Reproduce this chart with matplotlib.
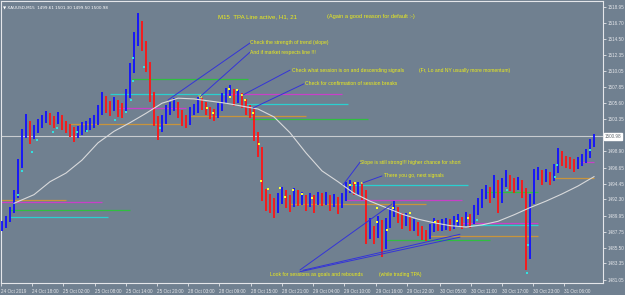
import matplotlib
matplotlib.use('Agg')
import matplotlib.pyplot as plt

# ---------------- data ----------------
closes = [1488.6, 1489.4, 1490.5, 1492.9, 1497.0, 1501.2, 1502.9, 1501.2, 1501.9, 1502.6,
          1503.3, 1503.7, 1503.3, 1503.0, 1503.6, 1502.7, 1502.3, 1501.9, 1501.5, 1501.6,
          1502.2, 1502.4, 1502.7, 1503.0, 1504.4, 1506.1, 1505.4, 1504.9, 1505.6, 1504.9,
          1504.7, 1506.7, 1510.2, 1514.4, 1517.4, 1513.7, 1510.9, 1506.7, 1503.3, 1502.2,
          1503.0, 1504.4, 1504.9, 1505.4, 1504.4, 1503.3, 1503.0, 1504.3, 1504.7, 1505.6,
          1505.4, 1504.7, 1504.3, 1504.0, 1504.9, 1506.1, 1506.7, 1507.2, 1506.1, 1506.6,
          1505.8, 1504.9, 1504.4, 1501.2, 1499.1, 1492.9, 1492.2, 1491.5, 1491.0, 1492.2,
          1492.9, 1492.2, 1491.8, 1492.9, 1492.2, 1492.4, 1491.9, 1492.2, 1491.8, 1492.4,
          1492.2, 1492.4, 1491.9, 1492.2, 1491.5, 1492.4, 1493.8, 1494.1, 1493.6, 1493.8,
          1493.3, 1487.3, 1488.0, 1487.3, 1489.1, 1485.9, 1488.7, 1490.1, 1490.8, 1489.7,
          1489.1, 1489.4, 1488.6, 1488.7, 1488.0, 1487.4, 1487.2, 1488.0, 1488.8, 1488.6,
          1488.7, 1488.8, 1488.6, 1489.1, 1489.4, 1488.8, 1489.7, 1489.1, 1490.5, 1491.5,
          1492.7, 1493.3, 1492.9, 1494.3, 1492.4, 1494.3, 1494.9, 1494.5, 1494.3, 1494.5,
          1493.3, 1484.5, 1492.2, 1495.6, 1495.8, 1495.2, 1495.5, 1495.2, 1496.3, 1498.4,
          1497.7, 1497.4, 1497.3, 1497.0, 1497.4, 1497.7, 1498.4, 1499.8, 1501.0]

highs = [1489.2, 1490.0, 1491.2, 1493.6, 1497.8, 1502.0, 1504.1, 1503.2, 1502.6, 1503.4,
         1504.0, 1504.5, 1504.2, 1503.8, 1504.4, 1503.9, 1503.1, 1502.7, 1502.3, 1502.4,
         1503.0, 1503.2, 1503.5, 1503.9, 1505.4, 1507.2, 1506.6, 1505.9, 1506.5, 1506.0,
         1505.6, 1507.6, 1511.2, 1515.5, 1518.2, 1517.0, 1514.2, 1511.3, 1507.1, 1503.8,
         1503.9, 1505.3, 1505.8, 1506.3, 1505.8, 1504.7, 1503.9, 1505.1, 1505.5, 1506.5,
         1506.3, 1505.8, 1505.1, 1504.8, 1505.7, 1507.0, 1507.7, 1508.1, 1507.6, 1507.5,
         1507.0, 1506.2, 1505.3, 1504.8, 1501.6, 1499.5, 1493.7, 1493.0, 1492.4, 1493.1,
         1493.9, 1493.6, 1492.8, 1493.8, 1493.5, 1493.3, 1492.9, 1493.1, 1492.8, 1493.3,
         1493.1, 1493.3, 1492.9, 1493.0, 1492.6, 1493.2, 1494.7, 1495.0, 1494.6, 1494.7,
         1494.4, 1493.6, 1489.6, 1488.6, 1490.0, 1489.4, 1489.6, 1491.0, 1492.0, 1491.2,
         1490.3, 1490.3, 1489.8, 1489.5, 1489.1, 1488.5, 1488.0, 1488.8, 1489.6, 1489.4,
         1489.5, 1489.6, 1489.5, 1489.9, 1490.2, 1489.8, 1490.5, 1490.2, 1491.4, 1492.4,
         1493.7, 1494.3, 1494.0, 1495.7, 1494.9, 1495.2, 1496.3, 1495.6, 1495.2, 1495.4,
         1494.9, 1493.8, 1493.0, 1496.5, 1496.7, 1496.3, 1496.4, 1496.1, 1497.2, 1499.4,
         1498.9, 1498.3, 1498.1, 1497.9, 1498.2, 1498.5, 1499.3, 1500.6, 1501.3]

lows = [1487.8, 1488.3, 1489.1, 1490.3, 1492.5, 1496.6, 1500.8, 1500.0, 1500.6, 1501.4,
        1502.2, 1502.9, 1502.6, 1502.1, 1502.7, 1501.9, 1501.4, 1500.9, 1500.2, 1500.8,
        1501.2, 1501.6, 1501.9, 1502.1, 1502.6, 1504.0, 1504.3, 1503.8, 1504.5, 1503.7,
        1503.5, 1504.3, 1506.3, 1509.8, 1513.6, 1512.8, 1509.9, 1505.8, 1502.4, 1500.5,
        1501.6, 1502.7, 1503.9, 1504.5, 1503.6, 1502.5, 1502.1, 1502.6, 1503.9, 1504.3,
        1504.6, 1503.9, 1503.4, 1503.1, 1503.6, 1504.5, 1505.7, 1506.3, 1505.2, 1505.7,
        1504.9, 1504.0, 1503.5, 1500.4, 1498.2, 1492.0, 1490.6, 1490.3, 1489.6, 1490.4,
        1491.6, 1491.1, 1490.5, 1491.2, 1491.3, 1491.4, 1490.6, 1491.2, 1490.3, 1491.4,
        1491.3, 1491.5, 1490.7, 1491.2, 1490.2, 1491.0, 1492.0, 1493.2, 1492.8, 1492.9,
        1492.2, 1486.0, 1486.8, 1486.1, 1486.9, 1484.2, 1485.4, 1488.3, 1489.8, 1488.9,
        1488.2, 1488.5, 1487.8, 1487.8, 1487.2, 1486.6, 1486.5, 1486.8, 1487.7, 1487.8,
        1487.9, 1488.0, 1487.9, 1488.2, 1488.6, 1488.1, 1488.5, 1488.3, 1488.8, 1490.1,
        1491.1, 1492.3, 1491.8, 1492.5, 1490.4, 1491.8, 1493.9, 1493.4, 1493.2, 1493.6,
        1492.4, 1482.4, 1484.0, 1491.6, 1494.9, 1494.3, 1494.6, 1494.3, 1494.8, 1495.9,
        1496.9, 1496.6, 1496.4, 1496.1, 1496.5, 1496.9, 1497.3, 1498.0, 1499.5]

# TPA line (H1, 21) sampled every 4 bars
ma_idx = [3, 8, 12, 16, 20, 24, 28, 32, 36, 40, 44, 48, 52, 56, 60, 64, 68, 72, 76, 80,
          84, 88, 92, 96, 100, 104, 108, 112, 116, 120, 124, 128, 132, 136, 140, 144, 148]
ma_vals = [1491.7, 1492.9, 1494.7, 1495.9, 1497.7, 1500.1, 1501.7, 1502.9, 1504.2, 1505.6,
           1506.3, 1506.2, 1505.9, 1505.6, 1505.2, 1504.8, 1503.7, 1501.5, 1498.7, 1496.2,
           1494.7, 1493.1, 1492.0, 1491.1, 1490.2, 1489.5, 1489.0, 1488.6, 1488.4, 1488.7,
           1489.2, 1490.1, 1491.1, 1492.0, 1493.0, 1494.1, 1495.4]

# session levels
level_price = [1509.0, 1506.9, 1506.9, 1505.5, 1504.9, 1503.8, 1502.7, 1503.4,
               1492.2, 1491.9, 1490.8, 1489.8, 1494.2, 1492.2, 1491.6, 1493.3,
               1489.0, 1488.7, 1487.1, 1486.6, 1495.2, 1497.4]
level_start = [32.5, 27, 56, 61, 29, 47, 17, 62,
               -0.25, -0.25, 2, 2, 87, 86, 72, 121,
               115, 117, 107, 96, 138, 144.5]
level_end = [61.5, 62, 85, 86.5, 46, 76, 44.5, 91.5,
             16, 25, 32, 26.5, 116.5, 115, 106, 134,
             134, 134, 134, 122, 148, 148]
level_kind = ['green', 'cyan', 'magenta', 'cyan', 'magenta', 'orange', 'orange', 'green',
              'orange', 'magenta', 'green', 'cyan', 'cyan', 'magenta', 'orange', 'green',
              'magenta', 'cyan', 'orange', 'green', 'orange', 'magenta']

current_price = 1500.98

cyan_idx = [4, 5, 7.5, 8.75, 12.75, 13.75, 18.75, 21.25, 28.25, 31, 32.25, 32.75, 32.75,
            35.5, 39.5, 118.75, 126.25, 131.5, 131.25, 138.25, 138.75, 147]
cyan_val = [1492.9, 1496.2, 1498.8, 1500.5, 1501.6, 1502.2, 1501.6, 1501.7, 1503.3, 1504.4,
            1506.1, 1508.7, 1511.9, 1510.6, 1502.2, 1489.4, 1493.6, 1485.9, 1482.0, 1495.4,
            1497.0, 1499.1]
yellow_idx = [56.75, 58.75, 57, 60, 60.75, 52.75, 51.25, 62.75, 64.25, 64.75, 66.5, 69.5,
              70.75, 72.75, 75, 77.5, 87, 88.25, 90, 93.75, 93.75, 96.25, 97.75, 102,
              108.25, 113.75, 116.5]
yellow_val = [1507.6, 1507.4, 1506.5, 1506.7, 1506.1, 1504.2, 1504.9, 1504.2, 1500.0, 1494.8,
              1493.7, 1493.8, 1492.6, 1493.6, 1493.0, 1492.4, 1494.2, 1494.5, 1494.5, 1491.1,
              1489.1, 1488.0, 1491.1, 1490.4, 1489.1, 1489.2, 1489.7]
star_idx = [49.5]
star_val = [1506.6]

ytick_vals = [1518.95, 1516.70, 1514.50, 1512.35, 1510.05, 1507.85, 1505.60, 1503.35,
              1498.90, 1496.65, 1494.45, 1492.30, 1489.95, 1487.75, 1485.50, 1483.35, 1481.05]
xtick_pos = [-0.25, 7.5, 15.25, 23.25, 31, 38.75, 46.5, 54.25, 62.25, 70, 77.75, 85.5,
             93.5, 101.25, 109.5, 117.25, 125, 132.75, 140.5]
xtick_labels = ['24 Oct 2019', '24 Oct 18:00', '25 Oct 02:00', '25 Oct 08:00', '25 Oct 14:00',
                '25 Oct 20:00', '28 Oct 03:00', '28 Oct 09:00', '28 Oct 15:00', '28 Oct 21:00',
                '29 Oct 04:00', '29 Oct 10:00', '29 Oct 16:00', '29 Oct 22:00', '30 Oct 05:00',
                '30 Oct 11:00', '30 Oct 17:00', '30 Oct 23:00', '31 Oct 06:00']

# annotations: (text, idx, price)
notes = [
    ("Check the strength of trend (slope)", 62, 1514.0),
    ("And if market respects line !!!", 62, 1512.7),
    ("Check what session is on and descending signals", 72.5, 1510.2),
    ("(Fr, Lo and NY usually more momentum)", 104.25, 1510.2),
    ("Check for confirmation of session breaks", 75.75, 1508.3),
    ("Slope is still strong!!! higher chance for short", 89.5, 1497.3),
    ("There you go, next signals", 95.5, 1495.5),
    ("Look for sessions as goals and rebounds", 67, 1481.75),
    ("(while trading TPA)", 94.25, 1481.75),
]
# pointer lines: start (idx, price) -> end (idx, price)
ptr_start = [(62, 1513.97), (62, 1512.7), (72, 1510.2), (75.5, 1508.3), (89.5, 1497.4),
             (95, 1495.5), (74.5, 1482.44), (75.25, 1482.4), (74.5, 1482.2)]
ptr_end = [(41.5, 1506.05), (49.5, 1506.5), (60.25, 1506.75), (62.75, 1504.94), (85.25, 1494.25),
           (90, 1494.5), (97.5, 1491.6), (114.5, 1487.4), (114.5, 1487.0)]

# ---------------- styling ----------------
BG = '#708090'
TXT = '#eeee18'
AXC = '#e4e6ea'
LEVEL_COLORS = {'green': '#2fbf3f', 'cyan': '#2ad0d0', 'magenta': '#c840c8', 'orange': '#c8943c'}
plt.rcParams['font.family'] = ['Liberation Sans', 'DejaVu Sans']

fig = plt.figure(figsize=(6.25, 2.95), dpi=100, facecolor=BG)
ax = fig.add_axes([1 / 625, 12 / 295, 602 / 625, 282 / 295])
ax.set_facecolor(BG)
ax.set_xlim(-0.25, 150.25)
ax.set_ylim(1480.63, 1519.80)

# current price line
ax.axhline(current_price, color='#c9ccd0', lw=0.8, zorder=1)

# session levels
for p, s, e, k in zip(level_price, level_start, level_end, level_kind):
    ax.hlines(p, s, e, colors=LEVEL_COLORS[k], lw=0.9, zorder=2)

# bars
xs = list(range(len(closes)))
cols = []
for i, c in enumerate(closes):
    prev = closes[i - 1] if i > 0 else c - 0.1
    cols.append('#1010ff' if c >= prev else '#ff1414')
ax.vlines(xs, lows, highs, colors=cols, lw=1.3, zorder=3)

# TPA line
ax.plot(ma_idx, ma_vals, color='#d9dadc', lw=0.8, zorder=4)

# signal dots
ax.scatter(cyan_idx, cyan_val, s=2.5, marker='s', color='#33e0e0', lw=0, zorder=5)
ax.scatter(yellow_idx, yellow_val, s=2.5, marker='s', color='#ffff30', lw=0, zorder=5)
ax.scatter(star_idx, star_val, s=14, marker='*', color='#ffff30', lw=0, zorder=5)

# pointer lines
for (sx, sy), (ex, ey) in zip(ptr_start, ptr_end):
    ax.annotate('', xy=(ex, ey), xytext=(sx, sy),
                arrowprops=dict(arrowstyle='-', color='#3434d8', lw=0.7,
                                shrinkA=0, shrinkB=0), zorder=6)

for t, x, y in notes:
    ax.text(x, y, t, color=TXT, fontsize=3.6, ha='left', va='center', zorder=7)

ax.text(54, 1517.6, "M15  TPA Line active, H1, 21", color=TXT, fontsize=4.4,
        ha='left', va='center')
ax.text(81.25, 1517.6, "(Again a good reason for default :-)", color=TXT, fontsize=4.1,
        ha='left', va='center')

# header
ax.text(0.004, 0.985, "\u25bc XAUUSD,M15  1499.61 1501.30 1499.50 1500.98",
        transform=ax.transAxes, color='white', fontsize=3.0, ha='left', va='top',
        family=['DejaVu Sans'])

# axes
for sp in ax.spines.values():
    sp.set_color(AXC)
    sp.set_linewidth(0.8)

ax.yaxis.tick_right()
ax.set_yticks(ytick_vals)
ax.set_yticklabels(['%.2f' % v for v in ytick_vals])
ax.tick_params(axis='y', length=2.5, width=0.6, color=AXC, labelcolor=AXC,
               labelsize=3.3, pad=1.2)
ax.set_xticks(xtick_pos)
ax.set_xticklabels(xtick_labels)
ax.tick_params(axis='x', length=2.5, width=0.6, color=AXC, labelcolor=AXC,
               labelsize=3.3, pad=1.5)
for lbl in ax.get_xticklabels():
    lbl.set_horizontalalignment('left')

# current price tag
ax.annotate('%.2f' % current_price, xy=(1.0, current_price),
            xycoords=('axes fraction', 'data'), xytext=(1.5, 0), textcoords='offset points',
            fontsize=3.3, color='#606870', ha='left', va='center',
            bbox=dict(boxstyle='square,pad=0.15', fc='white', ec='white'),
            annotation_clip=False)

fig.savefig('out.png', dpi=100, facecolor=BG)
